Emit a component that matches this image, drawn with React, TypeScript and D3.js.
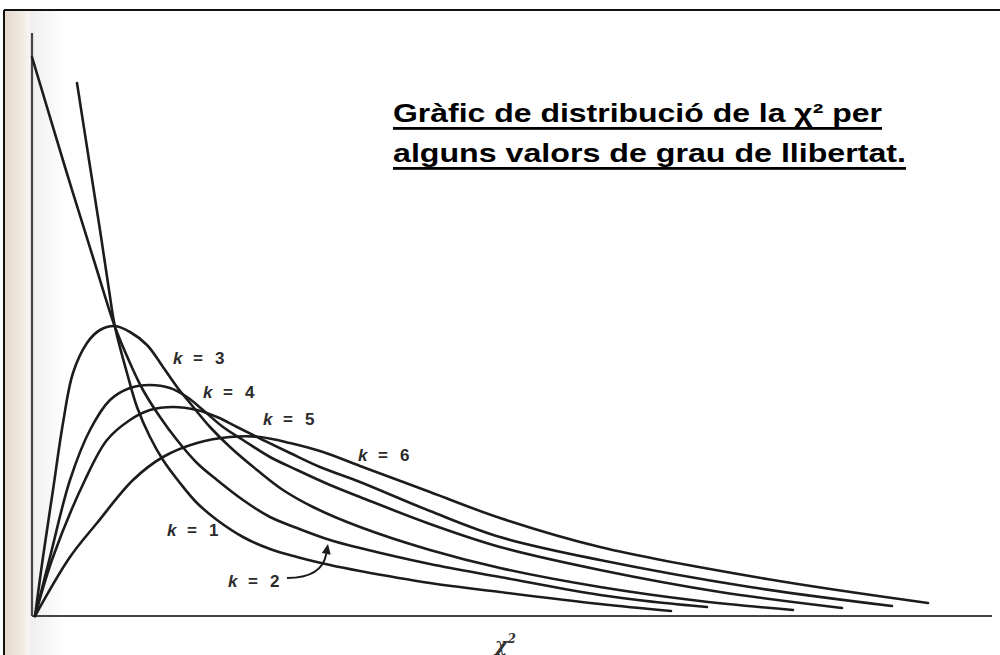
import React from "react";
import * as d3 from "d3";

type Pt = [number, number];

// Curves (x = χ² value, y = density), one array per degree of freedom
const K1: Pt[] = [
  [0.42, 0.533], [0.54, 0.456], [0.65, 0.386], [0.74, 0.326], [0.8, 0.289], [0.92, 0.243],
  [1.02, 0.209], [1.15, 0.179], [1.28, 0.156], [1.45, 0.133], [1.62, 0.113], [1.82, 0.096],
  [2.08, 0.079], [2.35, 0.067], [2.62, 0.059], [2.95, 0.051], [3.25, 0.045], [3.95, 0.033],
  [4.65, 0.024], [5.65, 0.012], [6.36, 0.005],
];
const K2: Pt[] = [
  [-0.03, 0.559], [0.3, 0.449], [0.61, 0.349], [0.8, 0.289], [0.95, 0.253], [1.08, 0.226],
  [1.25, 0.199], [1.42, 0.176], [1.62, 0.153], [1.82, 0.136], [2.08, 0.116], [2.35, 0.099],
  [2.62, 0.088], [2.95, 0.076], [3.25, 0.068], [3.95, 0.052], [4.65, 0.039], [5.65, 0.021],
  [6.2, 0.014], [6.72, 0.009],
];
const K3: Pt[] = [
  [0, 0], [0.08, 0.059], [0.18, 0.126], [0.28, 0.193], [0.38, 0.243], [0.52, 0.273],
  [0.65, 0.286], [0.8, 0.29], [0.95, 0.284], [1.12, 0.271], [1.28, 0.249], [1.42, 0.229],
  [1.55, 0.213], [1.75, 0.189], [1.95, 0.169], [2.22, 0.146], [2.48, 0.126], [2.78, 0.109],
  [3.25, 0.089], [3.95, 0.066], [4.65, 0.048], [5.65, 0.029], [6.65, 0.015], [7.58, 0.006],
];
const K4: Pt[] = [
  [0, 0], [0.15, 0.059], [0.35, 0.136], [0.55, 0.186], [0.75, 0.216], [0.95, 0.228],
  [1.15, 0.231], [1.35, 0.228], [1.52, 0.219], [1.68, 0.206], [1.88, 0.189], [2.08, 0.176],
  [2.35, 0.159], [2.62, 0.146], [2.95, 0.131], [3.25, 0.119], [3.95, 0.092], [4.65, 0.069],
  [5.65, 0.046], [6.85, 0.024], [8.07, 0.008],
];
const K5: Pt[] = [
  [0, 0], [0.18, 0.059], [0.5, 0.136], [0.72, 0.176], [0.95, 0.196], [1.15, 0.206],
  [1.38, 0.209], [1.62, 0.206], [1.82, 0.199], [2.02, 0.189], [2.28, 0.176], [2.55, 0.163],
  [2.85, 0.149], [3.25, 0.134], [3.95, 0.105], [4.65, 0.079], [5.65, 0.056], [7.15, 0.029],
  [8.57, 0.01],
];
const K6: Pt[] = [
  [0, 0], [0.35, 0.059], [0.62, 0.093], [0.98, 0.136], [1.28, 0.159], [1.62, 0.173],
  [1.95, 0.179], [2.25, 0.179], [2.55, 0.173], [2.88, 0.164], [3.25, 0.15], [3.95, 0.124],
  [4.65, 0.098], [5.65, 0.069], [7.32, 0.037], [8.93, 0.013],
];

const SERIES: Pt[][] = [K1, K2, K3, K4, K5, K6];
const SERIES_K = ["1", "2", "3", "4", "5", "6"];
// label anchors in data units
const LABEL_AT: Pt[] = [
  [1.32, 0.08], [1.93, 0.029], [1.38, 0.252], [1.68, 0.218], [2.28, 0.191], [3.23, 0.155],
];

const TITLE_LINES = ["Gràfic de distribució de la χ² per", "alguns valors de grau de llibertat."];
const X_LABEL = "χ";

const X_DOMAIN: Pt = [0, 9.57];
const Y_DOMAIN: Pt = [0, 0.583];
const AXIS_X = -0.03;

export default function App() {
  const W = 1000;
  const H = 655;
  const x = d3.scaleLinear().domain(X_DOMAIN).range([35, 992]);
  const y = d3.scaleLinear().domain(Y_DOMAIN).range([616, 33]);
  const line = d3
    .line<Pt>()
    .x((d) => x(d[0]))
    .y((d) => y(d[1]))
    .curve(d3.curveCatmullRom.alpha(0.5));

  // k = 2 arrow
  const a0: Pt = [x(2.52), y(0.038)];
  const ac: Pt = [x(2.87), y(0.038)];
  const a1: Pt = [x(2.93), y(0.072)];
  const dx = a1[0] - ac[0];
  const dy = a1[1] - ac[1];
  const len = Math.hypot(dx, dy);
  const ux = dx / len;
  const uy = dy / len;
  const head = 10;
  const hw = 4.5;
  const bx = a1[0] - ux * head;
  const by = a1[1] - uy * head;
  const headPts = `${a1[0]},${a1[1]} ${bx - uy * hw},${by + ux * hw} ${bx + uy * hw},${by - ux * hw}`;

  return (
    <svg
      width={W}
      height={H}
      style={{ position: "fixed", left: 0, top: 0, background: "#ffffff" }}
    >
      <defs>
        <linearGradient id="edge" x1="0" x2="1" y1="0" y2="0">
          <stop offset="0" stopColor="#e6d9cc" />
          <stop offset="0.55" stopColor="#eee6de" />
          <stop offset="1" stopColor="#f7f5f3" />
        </linearGradient>
        <linearGradient id="band" x1="0" x2="1" y1="0" y2="0">
          <stop offset="0" stopColor="#eeeeee" />
          <stop offset="1" stopColor="#ffffff" />
        </linearGradient>
      </defs>
      <rect x={0} y={0} width={W} height={H} fill="#ffffff" />
      <rect x={5} y={11} width={25} height={H - 11} fill="url(#edge)" />
      <rect x={30} y={11} width={35} height={H - 11} fill="url(#band)" />
      {/* frame: top and left edges */}
      <line x1={4} y1={10} x2={W} y2={10} stroke="#111" strokeWidth={2} />
      <line x1={4} y1={10} x2={4} y2={H} stroke="#111" strokeWidth={2} />

      {/* axes */}
      <line
        x1={x(AXIS_X)}
        y1={y(0)}
        x2={x(AXIS_X)}
        y2={y(Y_DOMAIN[1])}
        stroke="#444"
        strokeWidth={2.2}
      />
      <line
        x1={x(AXIS_X)}
        y1={y(0)}
        x2={x(X_DOMAIN[1])}
        y2={y(0)}
        stroke="#444"
        strokeWidth={2.2}
      />

      {/* curves */}
      {SERIES.map((s, i) => (
        <path
          key={i}
          d={line(s) || ""}
          fill="none"
          stroke="#1c1c1c"
          strokeWidth={2.6}
          strokeLinecap="round"
          strokeLinejoin="round"
        />
      ))}

      {/* k labels */}
      {LABEL_AT.map((p, i) => {
        const lx = x(p[0]);
        const ly = y(p[1]);
        return (
          <g
            key={i}
            fontFamily="'Liberation Sans', Arial, sans-serif"
            fontSize={17}
            fontWeight="bold"
            fill="#2b2b2b"
          >
            <text x={lx} y={ly} fontStyle="italic">k</text>
            <text x={lx + 20} y={ly}>=</text>
            <text x={lx + 42} y={ly}>{SERIES_K[i]}</text>
          </g>
        );
      })}

      {/* arrow for k = 2 */}
      <path
        d={`M${a0[0]},${a0[1]} Q${ac[0]},${ac[1]} ${bx},${by}`}
        fill="none"
        stroke="#1c1c1c"
        strokeWidth={2}
      />
      <polygon points={headPts} fill="#1c1c1c" />

      {/* x axis label */}
      <text
        x={495}
        y={651}
        fontFamily="'DejaVu Serif', serif"
        fontStyle="italic"
        fontWeight="bold"
        fontSize={19}
        fill="#333"
      >
        {X_LABEL}
        <tspan dy={-8} fontSize={12}>2</tspan>
      </text>

      {/* title */}
      <g fontFamily="'Liberation Sans', Arial, sans-serif" fontWeight="bold" fontSize={26} fill="#000">
        <text x={393} y={122} textLength={489} lengthAdjust="spacingAndGlyphs">
          {TITLE_LINES[0]}
        </text>
        <text x={393} y={162} textLength={513} lengthAdjust="spacingAndGlyphs">
          {TITLE_LINES[1]}
        </text>
      </g>
      <rect x={393} y={127} width={489} height={2.8} fill="#000" />
      <rect x={393} y={167} width={513} height={2.8} fill="#000" />
    </svg>
  );
}
